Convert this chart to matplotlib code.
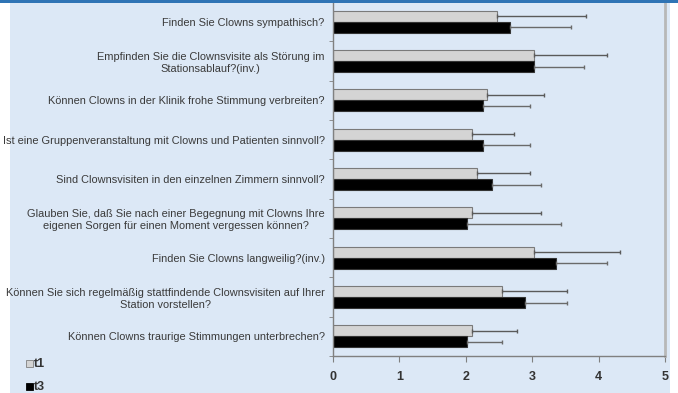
import numpy as np
import matplotlib.pyplot as plt
from matplotlib.patches import Rectangle

questions = [
    "Finden Sie Clowns sympathisch?",
    "Empfinden Sie die Clownsvisite als Störung im\nStationsablauf?(inv.)",
    "Können Clowns in der Klinik frohe Stimmung verbreiten?",
    "Ist eine Gruppenveranstaltung mit Clowns und Patienten sinnvoll?",
    "Sind Clownsvisiten in den einzelnen Zimmern sinnvoll?",
    "Glauben Sie, daß Sie nach einer Begegnung mit Clowns Ihre\neigenen Sorgen für einen Moment vergessen können?",
    "Finden Sie Clowns langweilig?(inv.)",
    "Können Sie sich regelmäßig stattfindende Clownsvisiten auf Ihrer\nStation vorstellen?",
    "Können Clowns traurige Stimmungen unterbrechen?",
]
t1_mean = [2.47, 3.02, 2.32, 2.10, 2.17, 2.09, 3.02, 2.55, 2.09]
t1_sd = [1.34, 1.10, 0.86, 0.63, 0.80, 1.04, 1.30, 0.97, 0.68]
t3_mean = [2.66, 3.02, 2.26, 2.26, 2.40, 2.02, 3.36, 2.89, 2.02]
t3_sd = [0.92, 0.76, 0.71, 0.71, 0.74, 1.41, 0.76, 0.64, 0.53]

bg = "#dce8f6"
fig = plt.figure(figsize=(6.78, 3.93), dpi=100)
fig.patch.set_facecolor("white")
# light blue panel and blue top line
fig.patches.append(Rectangle((10 / 678, 0), 660 / 678, 1, transform=fig.transFigure,
                             facecolor=bg, edgecolor="none", zorder=-10))
fig.patches.append(Rectangle((0, 1 - 2.5 / 393), 1, 2.5 / 393, transform=fig.transFigure,
                             facecolor="#2f74b5", edgecolor="none", zorder=5))

ax = fig.add_axes([333 / 678, 37 / 393, 332 / 678, 354 / 393])
ax.set_zorder(1)
ax.set_facecolor(bg)

n = len(questions)
y = np.arange(n)
h = 0.28
ax.barh(y - h / 2, t1_mean, height=h, color="#d4d4d4", edgecolor="#7a7a7a", linewidth=0.8,
        xerr=[np.zeros(n), t1_sd], error_kw=dict(ecolor="#5a5a5a", elinewidth=1.0, capsize=1.5, capthick=1.0))
ax.barh(y + h / 2, t3_mean, height=h, color="black", edgecolor="#333333", linewidth=0.8,
        xerr=[np.zeros(n), t3_sd], error_kw=dict(ecolor="#6a6a6a", elinewidth=1.0, capsize=1.5, capthick=1.0))

ax.set_xlim(0, 5)
ax.set_ylim(n - 0.5, -0.5)
ax.set_yticks(y)
ax.set_yticklabels(questions, fontsize=7.9, color="#3a3a3a", family="Liberation Sans",
                   multialignment="center")
ax.set_yticks(np.arange(-0.5, n), minor=True)
ax.tick_params(axis="y", which="major", length=0, pad=6)
ax.tick_params(axis="y", which="minor", length=3, color="#808080", direction="out")
ax.set_xticks(range(6))
ax.set_xticklabels([str(i) for i in range(6)], fontsize=9, fontweight="bold", color="#333333",
                   family="Liberation Sans")
ax.tick_params(axis="x", length=4, color="#808080", pad=7)

for side in ["left", "bottom"]:
    ax.spines[side].set_color("#808080")
    ax.spines[side].set_linewidth(1.0)
ax.spines["top"].set_visible(False)
ax.spines["right"].set_color("#b8b8b8")
ax.spines["right"].set_linewidth(2.0)

# legend at lower left
fig.patches.append(Rectangle((26 / 678, 1 - 367 / 393), 7 / 678, 7 / 393, transform=fig.transFigure,
                             facecolor="#d4d4d4", edgecolor="#808080", linewidth=0.6, zorder=3))
fig.patches.append(Rectangle((26 / 678, 1 - 390 / 393), 7 / 678, 7 / 393, transform=fig.transFigure,
                             facecolor="black", edgecolor="black", linewidth=0.6, zorder=3))
fig.text(34 / 678, 1 - 364 / 393, "t1", fontsize=9, fontweight="bold", color="#333333",
         va="center", family="Liberation Sans")
fig.text(34 / 678, 1 - 387 / 393, "t3", fontsize=9, fontweight="bold", color="#333333",
         va="center", family="Liberation Sans")

fig.savefig("out.png", dpi=100)
